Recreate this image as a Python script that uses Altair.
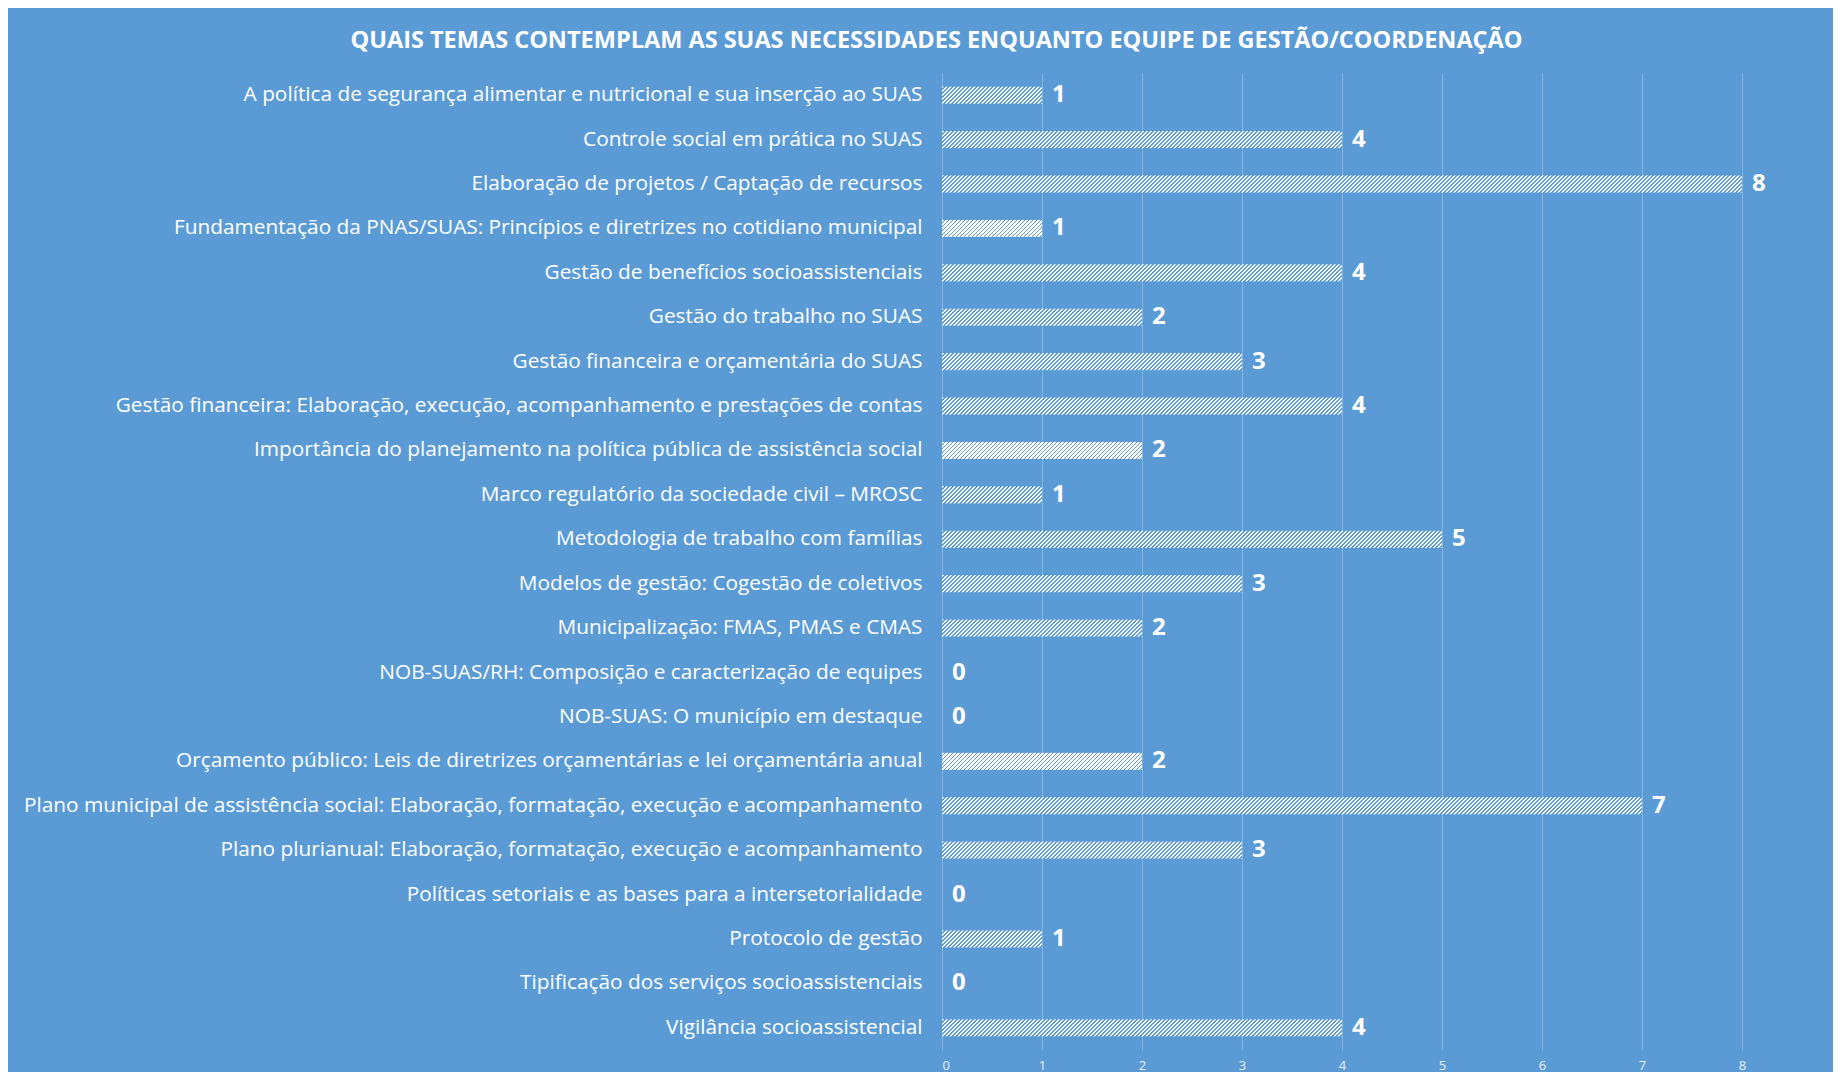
import altair as alt
import pandas as pd

categories = [
    "A política de segurança alimentar e nutricional e sua inserção ao SUAS",
    "Controle social em prática no SUAS",
    "Elaboração de projetos / Captação de recursos",
    "Fundamentação da PNAS/SUAS: Princípios e diretrizes no cotidiano municipal",
    "Gestão de benefícios socioassistenciais",
    "Gestão do trabalho no SUAS",
    "Gestão financeira e orçamentária do SUAS",
    "Gestão financeira: Elaboração, execução, acompanhamento e prestações de contas",
    "Importância do planejamento na política pública de assistência social",
    "Marco regulatório da sociedade civil – MROSC",
    "Metodologia de trabalho com famílias",
    "Modelos de gestão: Cogestão de coletivos",
    "Municipalização: FMAS, PMAS e CMAS",
    "NOB-SUAS/RH: Composição e caracterização de equipes",
    "NOB-SUAS: O município em destaque",
    "Orçamento público: Leis de diretrizes orçamentárias e lei orçamentária anual",
    "Plano municipal de assistência social: Elaboração, formatação, execução e acompanhamento",
    "Plano plurianual: Elaboração, formatação, execução e acompanhamento",
    "Políticas setoriais e as bases para a intersetorialidade",
    "Protocolo de gestão",
    "Tipificação dos serviços socioassistenciais",
    "Vigilância socioassistencial",
]
values = [1, 4, 8, 1, 4, 2, 3, 4, 2, 1, 5, 3, 2, 0, 0, 2, 7, 3, 0, 1, 0, 4]
x_ticks = [0, 1, 2, 3, 4, 5, 6, 7, 8, 9]
title_text = "QUAIS TEMAS CONTEMPLAM AS SUAS NECESSIDADES ENQUANTO EQUIPE DE GESTÃO/COORDENAÇÃO"

df = pd.DataFrame({"tema": categories, "n": values})

BG = "#5B9BD5"
PLOT_W = 891
PLOT_H = 977
X_RANGE = 900          # pixels for domain 0..9 (100 px per unit)
PAD_INNER = 0.617
N_CAT = len(categories)
step = PLOT_H / N_CAT
bar_h = step * (1 - PAD_INNER)
SEG_PER_UNIT = 5       # each bar is drawn as tiles of 0.2 units (20 px)
SEG_W = X_RANGE / 9.0 / SEG_PER_UNIT
PERIOD = 4.0
WHITE_FRAC = 0.55


def hatch_tile():
    W = SEG_W
    H = bar_h
    c = (W + H) / (W * W + H * H)
    total = W + H
    stops = []
    k = 0
    while k * PERIOD < total:
        a = k * PERIOD / total
        b = min(1.0, (k + WHITE_FRAC) * PERIOD / total)
        e = min(1.0, (k + 1) * PERIOD / total)
        stops += [
            alt.GradientStop(color="#ffffff", offset=a),
            alt.GradientStop(color="#ffffff", offset=b),
            alt.GradientStop(color=BG, offset=b),
            alt.GradientStop(color=BG, offset=e),
        ]
        k += 1
    return alt.LinearGradient(gradient="linear", stops=stops,
                              x1=0, y1=0, x2=W * c, y2=H * c)


y_enc = alt.Y(
    "tema:N",
    sort=categories,
    scale=alt.Scale(domain=categories, paddingInner=PAD_INNER, paddingOuter=PAD_INNER / 2),
    axis=alt.Axis(title=None, ticks=False, domain=False, labelPadding=20,
                  labelFont="Open Sans", labelFontSize=20.8, labelColor="#ffffff",
                  labelLimit=1200, grid=False),
)
x_scale = alt.Scale(domain=[0, 9], range=[0, X_RANGE], nice=False)
x_axis = alt.Axis(title=None, values=x_ticks, ticks=False, domain=False,
                  grid=True, gridColor="#ffffff", gridOpacity=0.25, gridWidth=1,
                  labelFont="Open Sans", labelFontSize=13, labelColor="#e8f0fa",
                  labelPadding=9, format="d")

base = alt.Chart(df)

bars = (
    base.transform_calculate(k=f"sequence(0, datum.n * {SEG_PER_UNIT})")
    .transform_flatten(["k"])
    .transform_calculate(
        x0=f"datum.k / {SEG_PER_UNIT}",
        x1=f"(datum.k + 1) / {SEG_PER_UNIT}",
    )
    .mark_bar(fill=hatch_tile(), strokeWidth=0)
    .encode(
        x=alt.X("x0:Q", scale=x_scale, axis=x_axis),
        x2="x1:Q",
        y=y_enc,
    )
)

labels = base.mark_text(
    align="left", baseline="middle", dx=10, font="Open Sans", fontSize=24,
    fontWeight="bold", color="#ffffff"
).encode(
    x=alt.X("n:Q", scale=x_scale, axis=x_axis),
    y=y_enc,
    text=alt.Text("n:Q", format="d"),
)

chart = alt.layer(bars, labels).properties(
    width=PLOT_W,
    height=PLOT_H,
    padding={"left": 934, "top": 65, "right": 0, "bottom": 22},
    autosize=alt.AutoSizeParams(type="none"),
    background=BG,
    title=alt.TitleParams(
        text=title_text, anchor="middle", frame="group", dx=-451,
        offset=9, baseline="middle", font="Open Sans", fontSize=23.5,
        fontWeight="bold", color="#ffffff",
    ),
).configure_view(stroke=None)

chart.save("out.html", embed_options={"renderer": "svg", "actions": False})
